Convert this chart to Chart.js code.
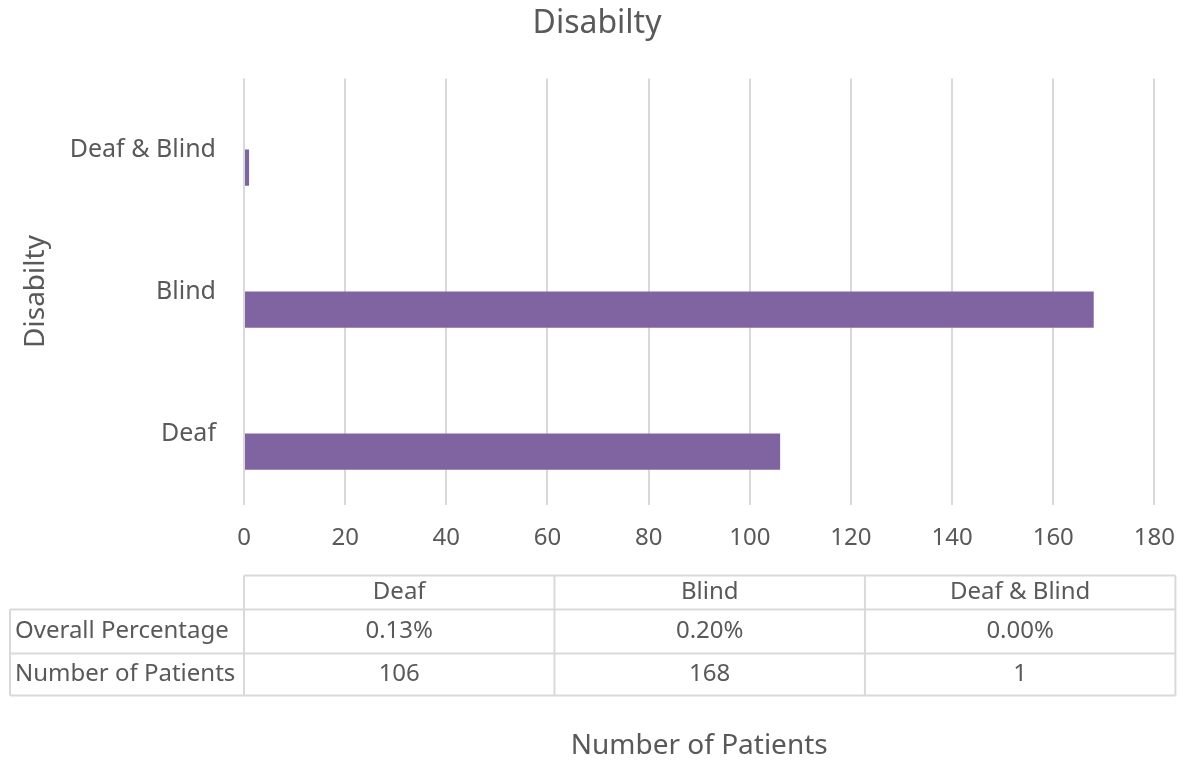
<!DOCTYPE html>
<html>
<head>
<meta charset="utf-8">
<script src="https://cdn.jsdelivr.net/npm/chart.js@4/dist/chart.umd.min.js"></script>
<style>
  html, body { margin: 0; padding: 0; background: #ffffff; }
  #wrap { width: 1194px; height: 763px; position: relative; }
</style>
</head>
<body>
<div id="wrap"><canvas id="barChartCanvas"></canvas></div>
<script>
// chart data
const categories = ['Deaf', 'Blind', 'Deaf & Blind'];
const overallShare = [0.0013, 0.0020, 0.0000];   // "Overall Percentage" series
const patients = [106, 168, 1];                  // "Number of Patients" series
const seriesNames = ['Overall Percentage', 'Number of Patients'];
const xMin = 0, xMax = 180, xStep = 20;

const textColor = '#595959';
const gridColor = '#D9D9D9';
const fontFamily = '"Noto Sans", "Open Sans", sans-serif';

function pct(v) {
  return (v * 100).toFixed(2) + '%';
}

// data table under the x axis
const dataTablePlugin = {
  id: 'dataTable',
  afterDraw(chart) {
    const ctx = chart.ctx;
    const area = chart.chartArea;
    const left = 10;
    const colStart = area.left;
    const right = area.right + 21;
    const colW = (right - colStart) / categories.length;
    const top = area.bottom + 71;
    const rowH = [34, 44, 42];
    const rowTop = [top, top + rowH[0], top + rowH[0] + rowH[1]];
    const bottom = rowTop[2] + rowH[2];

    ctx.save();
    ctx.strokeStyle = gridColor;
    ctx.lineWidth = 2;
    ctx.beginPath();
    // horizontal lines
    ctx.moveTo(colStart, rowTop[0]); ctx.lineTo(right, rowTop[0]);
    ctx.moveTo(left, rowTop[1]); ctx.lineTo(right, rowTop[1]);
    ctx.moveTo(left, rowTop[2]); ctx.lineTo(right, rowTop[2]);
    ctx.moveTo(left, bottom); ctx.lineTo(right, bottom);
    // vertical lines
    ctx.moveTo(left, rowTop[1]); ctx.lineTo(left, bottom);
    for (let i = 0; i <= categories.length; i++) {
      const x = colStart + i * colW;
      ctx.moveTo(x, rowTop[0]); ctx.lineTo(x, bottom);
    }
    ctx.stroke();

    ctx.fillStyle = textColor;
    ctx.font = '24px ' + fontFamily;
    ctx.textBaseline = 'middle';
    ctx.textAlign = 'center';
    const rows = [categories, overallShare.map(pct), patients.map(String)];
    rows.forEach(function (vals, r) {
      const cy = rowTop[r] + rowH[r] / 2;
      vals.forEach(function (v, i) {
        ctx.fillText(v, colStart + colW * (i + 0.5), cy);
      });
    });
    ctx.textAlign = 'left';
    seriesNames.forEach(function (label, r) {
      ctx.fillText(label, left + 5, rowTop[r + 1] + rowH[r + 1] / 2);
    });
    ctx.restore();
  }
};

var ctx = document.getElementById('barChartCanvas').getContext('2d');

var barChart = new Chart(ctx, {
  type: 'bar',
  data: {
    labels: categories,
    datasets: [{
      // percentage series: far too small to show on this axis
      label: seriesNames[0],
      data: overallShare,
      backgroundColor: 'rgba(79, 129, 189, 0)',
      borderWidth: 0,
      categoryPercentage: 0.51,
      barPercentage: 1
    }, {
      label: seriesNames[1],
      data: patients,
      backgroundColor: '#8064A2',
      borderWidth: 0,
      categoryPercentage: 0.51,
      barPercentage: 1
    }]
  },
  options: {
    indexAxis: 'y',
    responsive: true,
    maintainAspectRatio: false,
    animation: false,
    layout: {
      padding: 0
    },
    plugins: {
      legend: { display: false },
      tooltip: { enabled: false },
      title: {
        display: true,
        text: 'Disabilty',
        color: textColor,
        font: { family: fontFamily, size: 32, weight: 'normal' },
        padding: { top: 5, bottom: 35 }
      }
    },
    scales: {
      x: {
        type: 'linear',
        min: xMin,
        max: xMax,
        ticks: {
          stepSize: xStep,
          color: textColor,
          font: { family: fontFamily, size: 24 },
          padding: 19
        },
        grid: {
          color: gridColor,
          lineWidth: 2,
          drawTicks: false
        },
        border: { display: false },
        title: {
          display: true,
          text: 'Number of Patients',
          color: textColor,
          font: { family: fontFamily, size: 28 },
          padding: { top: 158, bottom: 0 }
        }
      },
      y: {
        reverse: true,
        ticks: {
          color: textColor,
          font: { family: fontFamily, size: 25 },
          padding: 28
        },
        grid: { display: false, drawTicks: false },
        border: { display: false },
        title: {
          display: true,
          text: 'Disabilty',
          color: textColor,
          font: { family: fontFamily, size: 28 },
          padding: { top: 19, bottom: 18 }
        },
        afterFit: function (scale) {
          scale.width = 244;
        }
      },
      // empty right-hand strip so the plot ends at 180 like the original
      yRight: {
        type: 'linear',
        position: 'right',
        ticks: { display: false },
        grid: { display: false, drawTicks: false },
        border: { display: false },
        afterFit: function (scale) {
          scale.width = 38;
        }
      }
    }
  },
  plugins: [dataTablePlugin]
});
</script>
</body>
</html>
